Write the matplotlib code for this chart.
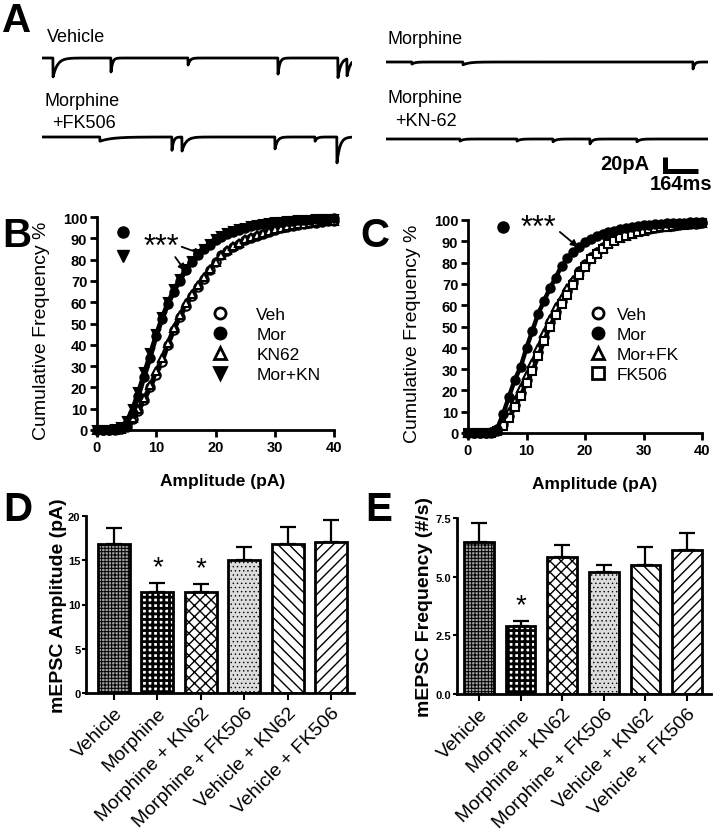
import matplotlib
matplotlib.use('Agg')
import matplotlib.pyplot as plt
from matplotlib.lines import Line2D
import numpy as np

plt.rcParams['font.family'] = ['Liberation Sans', 'DejaVu Sans']
plt.rcParams['hatch.linewidth'] = 1.0

W, H = 714, 837

# ---------------- data ----------------
# panel A: mEPSC events (onset ms, amplitude pA, decay ms)
VEH_EVENTS = [(55, 27, 22), (343, 20, 8), (726, 10, 10), (1173, 23, 9), (1471, 28, 15), (1516, 24, 18)]
MOR_EVENTS = [(129, 3, 15), (383, 4, 30), (1526, 10, 8)]
MORFK_EVENTS = [(288, 6, 60), (646, 19, 8), (696, 20, 20), (1158, 17, 12), (1357, 6, 10), (1466, 37, 15)]
MORKN_EVENTS = [(368, 3, 15), (651, 3, 15), (830, 4, 15), (1014, 7, 12), (1247, 4, 15)]
LEFT_MS = 1540
RIGHT_MS = 1600
SCALE_PA = 20
SCALE_MS = 164

# panels B, C: cumulative amplitude distributions (%)
AMP = list(range(0, 41))
B_VEH = [0, 0, 0, 0, 0.3, 1.5, 5, 9, 14, 20, 26, 32, 40, 47, 53, 58, 63, 67, 71, 75, 79,
         82, 84, 86, 87.5, 89, 90, 91, 92, 93, 94, 94.7, 95.3, 95.8, 96.3, 96.7, 97.1, 97.4, 97.7, 97.9, 98.1]
B_MOR = [0, 0, 0, 0.3, 1, 3, 8, 16, 25, 34, 44, 52, 59, 65, 70, 75, 79, 82, 85, 87, 89,
         90.5, 92, 93, 94, 95, 95.7, 96.3, 96.8, 97.2, 97.5, 97.8, 98, 98.2, 98.4, 98.6, 98.8, 99, 99.1, 99.2, 99.3]
B_KN62 = [0, 0, 0, 0, 0.5, 2, 5.5, 10, 15, 21, 27.5, 34, 41, 48, 54, 59.5, 64, 68, 72, 75.5, 79,
          82, 84.5, 86.5, 88, 89.5, 90.5, 91.5, 92.5, 93.5, 94.3, 95, 95.6, 96.1, 96.5, 96.9, 97.3, 97.6, 97.9, 98.1, 98.3]
B_MORKN = [0, 0, 0, 0.5, 1.5, 4, 10, 18, 27, 36, 45, 53, 60, 66, 71, 75.5, 79.5, 82.5, 85, 87.5, 89.5,
           91, 92.3, 93.3, 94.2, 95, 95.7, 96.3, 96.8, 97.2, 97.5, 97.8, 98, 98.2, 98.4, 98.6, 98.8, 98.9, 99, 99.1, 99.2]
C_VEH = [0, 0, 0, 0, 0.2, 1, 4, 8, 13, 19, 25, 30.5, 38, 45, 52, 57, 62, 66.5, 71, 76, 79.5,
         82.5, 85, 87.5, 89.5, 91, 92.2, 93.2, 94, 94.7, 95.3, 95.8, 96.3, 96.7, 97.1, 97.4, 97.7, 97.9, 98.1, 98.3, 98.5]
C_MOR = [0, 0, 0, 0, 0.5, 2, 9, 17, 25, 31, 40, 48, 56, 62, 68, 73, 78.5, 82, 85, 87.5, 89.5,
         91, 92.3, 93.3, 94.2, 95, 95.7, 96.3, 96.8, 97.2, 97.5, 97.8, 98, 98.2, 98.4, 98.6, 98.7, 98.8, 98.9, 99, 99.1]
C_MORFK = [0, 0, 0, 0, 0.3, 1.5, 5, 10, 15, 21, 27, 33, 40, 47, 53.5, 59, 63.5, 68, 72, 76, 79.5,
           82.5, 85, 87, 89, 90.5, 91.7, 92.7, 93.6, 94.4, 95, 95.6, 96.1, 96.5, 96.9, 97.3, 97.6, 97.9, 98.1, 98.3, 98.5]
C_FK506 = [0, 0, 0, 0, 0.1, 0.8, 3.5, 7, 12, 17.5, 23.5, 29, 36, 43, 50, 55.5, 60.5, 65, 69.5, 74, 78,
           81.5, 84, 86.5, 88.5, 90, 91.5, 92.5, 93.5, 94.3, 95, 95.6, 96.1, 96.5, 96.9, 97.2, 97.5, 97.8, 98, 98.2, 98.4]

# panels D, E: bar charts
CONDITIONS = ['Vehicle', 'Morphine', 'Morphine + KN62', 'Morphine + FK506',
              'Vehicle + KN62', 'Vehicle + FK506']
AMP_MEAN = [16.8, 11.45, 11.45, 15.05, 16.85, 17.05]
AMP_SEM = [1.9, 0.95, 0.85, 1.45, 1.9, 2.45]
AMP_SIG = [False, True, True, False, False, False]
FREQ_MEAN = [6.46, 2.88, 5.82, 5.18, 5.51, 6.14]
FREQ_SEM = [0.83, 0.24, 0.53, 0.32, 0.77, 0.71]
FREQ_SIG = [False, True, False, False, False, False]

BAR_FACES = ['#a0a0a0', 'white', 'white', '#dcdcdc', 'white', 'white']
BAR_HATCHES = ['+++++', '+++', 'xxx', '....', '\\\\\\', '///']
BAR_HATCH_LW = [0.7, 2.0, 1.0, 0.5, 1.0, 1.0]

fig = plt.figure(figsize=(W / 100, H / 100), dpi=100)


def px_axes(left, top, right, bottom):
    return fig.add_axes([left / W, 1 - bottom / H, (right - left) / W, (bottom - top) / H])


def px_text(x, y, s, **kw):
    return fig.text(x / W, 1 - y / H, s, **kw)


# ---------------- A: traces ----------------
MS_PER_PX = SCALE_MS / 33.0
PA_PER_PX = SCALE_PA / 14.0


def make_trace(events, dur):
    t = np.arange(0, dur, 1.0)
    y = np.zeros_like(t)
    for t0, amp, tau in events:
        m = t >= t0
        y[m] -= amp * np.exp(-(t[m] - t0) / tau)
    return t, y


def trace_axes(x0, base, dur, events):
    top = base - 10 / PA_PER_PX
    bottom = base + 45 / PA_PER_PX
    ax = px_axes(x0, top, x0 + dur / MS_PER_PX, bottom)
    ax.set_xlim(0, dur)
    ax.set_ylim(-45, 10)
    ax.axis('off')
    t, y = make_trace(events, dur)
    ax.plot(t, y, color='black', lw=2.0)
    return ax


trace_axes(42, 59, LEFT_MS, VEH_EVENTS)
trace_axes(386, 63, RIGHT_MS, MOR_EVENTS)
trace_axes(42, 138, LEFT_MS, MORFK_EVENTS)
trace_axes(386, 140, RIGHT_MS, MORKN_EVENTS)

# scale bar
sb = px_axes(655, 150, 705, 180)
sb.set_xlim(0, 50 * MS_PER_PX)
sb.set_ylim(0, 30 * PA_PER_PX)
sb.axis('off')
x0, y0 = 10 * MS_PER_PX, 8 * PA_PER_PX
sb.plot([x0, x0, x0 + SCALE_MS], [y0 + SCALE_PA, y0, y0], color='black', lw=3.6,
        solid_joinstyle='miter', solid_capstyle='butt')
px_text(625, 165, '%dpA' % SCALE_PA, ha='center', va='center', fontsize=14.5, fontweight='bold')
px_text(681, 184, '%dms' % SCALE_MS, ha='center', va='center', fontsize=14.5, fontweight='bold')

lab_kw = dict(fontsize=13, ha='left', va='baseline')
px_text(47, 42, 'Vehicle', **lab_kw)
px_text(45, 106, 'Morphine', **lab_kw)
px_text(52, 128, '+FK506', **lab_kw)
px_text(388, 44, 'Morphine', **lab_kw)
px_text(388, 103, 'Morphine', **lab_kw)
px_text(395, 126, '+KN-62', **lab_kw)

# panel letters
for letter, (x, y) in zip('ABCDE', [(2, 32), (2, 247), (360, 247), (3, 521), (365, 521)]):
    px_text(x, y, letter, fontsize=29, fontweight='bold', ha='left', va='baseline')


# ---------------- B, C: cumulative plots ----------------
def style_cum(ax, ylabel_x, xlabel_x):
    ax.set_xlim(0, 40)
    ax.set_ylim(0, 100)
    for s in ['top', 'right']:
        ax.spines[s].set_visible(False)
    for s in ['left', 'bottom']:
        ax.spines[s].set_linewidth(2)
    ax.set_xticks([0, 10, 20, 30, 40], ['0', '10', '20', '30', '40'], fontweight='bold', fontsize=10.5)
    ax.set_yticks(range(0, 101, 10), [str(v) for v in range(0, 101, 10)], fontweight='bold', fontsize=10.5)
    ax.tick_params(width=2, length=5, pad=2)
    ax.set_ylabel('Cumulative Frequency %', fontsize=14)
    ax.yaxis.set_label_coords(ylabel_x, 0.47)
    ax.set_xlabel('Amplitude (pA)', fontsize=12.5, fontweight='bold')
    ax.xaxis.set_label_coords(xlabel_x, -0.2)


def cum_series(ax, series):
    handles = []
    for label, vals, marker, filled in series:
        face = 'black' if filled else 'white'
        ax.plot(AMP, vals, color='black', lw=3.2, marker=marker, ms=6,
                mfc=face, mec='black', mew=1.5, clip_on=False, zorder=3 if filled else 2)
        handles.append(Line2D([], [], ls='none', marker=marker, ms=8, mfc=face,
                              mec='black', mew=2))
    return handles


axB = px_axes(97, 218, 334, 431)
style_cum(axB, -0.198, 0.53)
hB = cum_series(axB, [('Veh', B_VEH, 'o', False), ('Mor', B_MOR, 'o', True),
                      ('KN62', B_KN62, '^', False), ('Mor+KN', B_MORKN, 'v', True)])
axB.legend(hB, ['Veh', 'Mor', 'KN62', 'Mor+KN'], loc='upper left', bbox_to_anchor=(0.481, 0.577),
           frameon=False, fontsize=12.5, handlelength=1.0, handletextpad=1.6,
           labelspacing=0.27, borderpad=0, borderaxespad=0)
axB.plot([4.4], [93], ls='none', marker='o', ms=8, color='black', clip_on=False)
axB.plot([4.4], [81.7], ls='none', marker='v', ms=8, color='black', clip_on=False)
axB.text(10.8, 86, '***', fontsize=22, ha='center', va='center')
arrow = dict(arrowstyle='-|>', color='black', lw=1.3, mutation_scale=10, shrinkA=0, shrinkB=0)
axB.annotate('', xy=(17.7, 82.6), xytext=(14.3, 86), arrowprops=arrow)
axB.annotate('', xy=(14.9, 74.6), xytext=(13.2, 81.2), arrowprops=arrow)

axC = px_axes(468, 221, 702, 434)
style_cum(axC, -0.2, 0.543)
hC = cum_series(axC, [('Veh', C_VEH, 'o', False), ('Mor', C_MOR, 'o', True),
                      ('Mor+FK', C_MORFK, '^', False), ('FK506', C_FK506, 's', False)])
axC.legend(hC, ['Veh', 'Mor', 'Mor+FK', 'FK506'], loc='upper left', bbox_to_anchor=(0.517, 0.592),
           frameon=False, fontsize=12.5, handlelength=1.0, handletextpad=0.6,
           labelspacing=0.27, borderpad=0, borderaxespad=0)
axC.plot([6.0], [96.7], ls='none', marker='o', ms=8, color='black', clip_on=False)
axC.text(12.0, 96.2, '***', fontsize=22, ha='center', va='center')
axC.annotate('', xy=(18.8, 87.3), xytext=(15.7, 94.4), arrowprops=arrow)


# ---------------- D, E: bar charts ----------------
def bar_panel(ax, means, sems, sig, width, ylim, yticks, yticklabels, ylabel, ylabel_x, xlim):
    x = np.arange(len(CONDITIONS))
    bars = ax.bar(x, means, width=width, color=BAR_FACES, edgecolor='black', linewidth=2,
                  zorder=2)
    for b, h, hl in zip(bars, BAR_HATCHES, BAR_HATCH_LW):
        b.set_hatch(h)
        if hasattr(b, 'set_hatch_linewidth'):
            b.set_hatch_linewidth(hl)
    ax.errorbar(x, means, yerr=[np.zeros(len(means)), sems], fmt='none', ecolor='black',
                elinewidth=1.6, capsize=5.8, capthick=1.6, zorder=3)
    for xi, m, s, flag in zip(x, means, sems, sig):
        if flag:
            ax.text(xi, m + s + ylim[1] * 0.015, '*', ha='center', va='bottom', fontsize=20)
    ax.set_xlim(*xlim)
    ax.set_ylim(*ylim)
    for s in ['top', 'right']:
        ax.spines[s].set_visible(False)
    for s in ['left', 'bottom']:
        ax.spines[s].set_linewidth(2)
    ax.set_yticks(yticks, yticklabels, fontsize=8, fontweight='bold')
    ax.set_xticks(x, CONDITIONS, rotation=45, ha='right', rotation_mode='anchor', fontsize=14)
    ax.tick_params(axis='y', length=3, width=1.5, pad=1)
    ax.tick_params(axis='x', length=5, width=1.5, pad=3)
    ax.set_ylabel(ylabel, fontsize=14, fontweight='bold')
    ax.yaxis.set_label_coords(ylabel_x, 0.5)


axD = px_axes(86, 517, 354, 694)
bar_panel(axD, AMP_MEAN, AMP_SEM, AMP_SIG, 0.74, (0, 20), [0, 5, 10, 15, 20],
          ['0', '5', '10', '15', '20'], 'mEPSC Amplitude (pA)', -0.071, (-0.645, 5.53))

axE = px_axes(457, 519, 711, 695)
bar_panel(axE, FREQ_MEAN, FREQ_SEM, FREQ_SIG, 0.71, (0, 7.5), [0, 2.5, 5, 7.5],
          ['0.0', '2.5', '5.0', '7.5'], 'mEPSC Frequency (#/s)', -0.094, (-0.53, 5.58))

fig.savefig('out.png', dpi=100)
